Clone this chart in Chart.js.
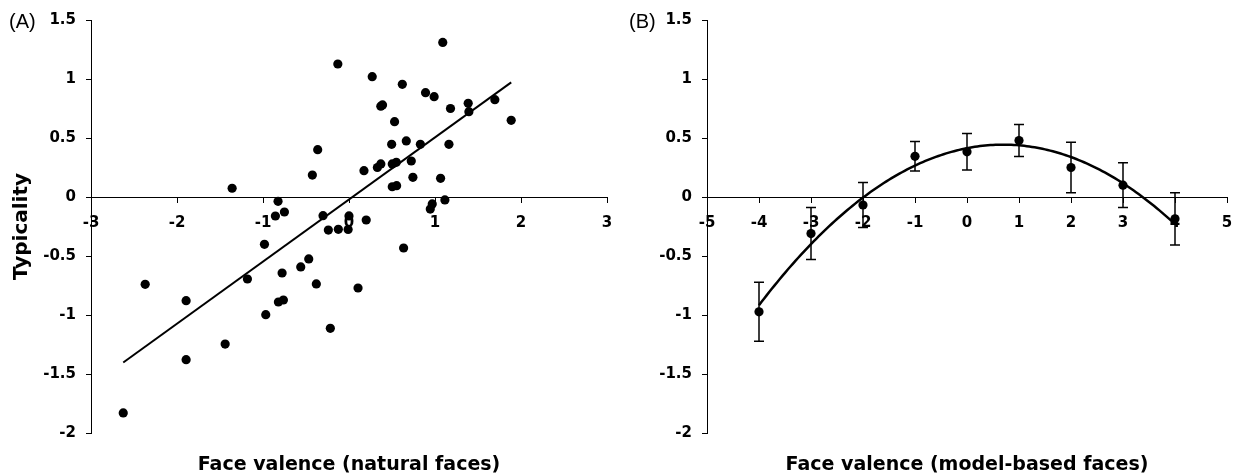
<!DOCTYPE html>
<html><head><meta charset="utf-8">
<script src="https://cdn.jsdelivr.net/npm/chart.js@4.4.1/dist/chart.umd.min.js"></script>
<style>
html,body{margin:0;padding:0;background:#fff;}
#wrap{position:relative;width:1235px;height:475px;overflow:hidden;background:#fff;}
#cA{position:absolute;left:0;top:0;}
#cB{position:absolute;left:620px;top:0;}
</style></head><body>
<div id="wrap"><canvas id="cA" width="620" height="475"></canvas><canvas id="cB" width="615" height="475"></canvas></div>
<script>
// ---------- Panel A: natural faces ----------
const naturalX = [-0.13, 1.09, 0.27, 0.62, 0.89, 0.99, 0.37, 0.39, 1.18, 1.386, 1.394, 1.696, 1.886, 0.53, -0.364, -0.426, 0.496, 0.666, 0.83, 1.162, 0.174, 0.33, 0.37, 0.503, 0.55, 0.724, 0.743, 1.065, 0.503, 0.554, 1.115, 0.968, 0.945, -0.302, 0, -0.01, -0.24, -0.124, 0.2, -1.359, -0.825, -0.856, -0.751, -2.625, -2.37, -1.894, -1.894, -1.44, -1.181, -0.983, -0.968, -0.778, -0.821, -0.763, -0.561, -0.468, -0.38, 0.105, -0.217, 0.635];
const naturalY = [1.127, 1.31, 1.02, 0.955, 0.884, 0.85, 0.77, 0.78, 0.75, 0.794, 0.723, 0.825, 0.65, 0.638, 0.401, 0.186, 0.446, 0.475, 0.446, 0.446, 0.223, 0.25, 0.28, 0.28, 0.294, 0.305, 0.167, 0.158, 0.087, 0.096, -0.025, -0.059, -0.102, -0.158, -0.16, -0.275, -0.28, -0.274, -0.195, 0.074, -0.037, -0.161, -0.127, -1.83, -0.74, -0.879, -1.379, -1.246, -0.695, -0.401, -0.997, -0.644, -0.89, -0.873, -0.593, -0.525, -0.737, -0.771, -1.113, -0.432];
const xTicksA = [-3, -2, -1, 0, 1, 2, 3];

// ---------- Panel B: model-based faces ----------
const modelX = [-4, -3, -2, -1, 0, 1, 2, 3, 4];
const modelY = [-0.973, -0.31, -0.068, 0.345, 0.383, 0.479, 0.25, 0.1, -0.185];
const modelErr = [0.25, 0.22, 0.19, 0.125, 0.155, 0.135, 0.213, 0.19, 0.222];
const xTicksB = [-5, -4, -3, -2, -1, 0, 1, 2, 3, 4, 5];

const yTicks = [-2, -1.5, -1, -0.5, 0, 0.5, 1, 1.5];

const titleA = 'Face valence (natural faces)';
const titleB = 'Face valence (model-based faces)';
const yTitle = 'Typicality';

// ---------- fits (trendlines computed from the data) ----------
function linFit(xs, ys) {
  const n = xs.length;
  let sx = 0, sy = 0, sxx = 0, sxy = 0;
  for (let i = 0; i < n; i++) { sx += xs[i]; sy += ys[i]; sxx += xs[i]*xs[i]; sxy += xs[i]*ys[i]; }
  const b = (n*sxy - sx*sy) / (n*sxx - sx*sx);
  const a = (sy - b*sx) / n;
  return {a, b};
}
function quadFit(xs, ys) {
  const S = [0,0,0,0,0], T = [0,0,0];
  for (let i = 0; i < xs.length; i++) {
    let p = 1;
    for (let k = 0; k < 5; k++) { S[k] += p; if (k < 3) T[k] += p*ys[i]; p *= xs[i]; }
  }
  const M = [[S[0],S[1],S[2],T[0]],[S[1],S[2],S[3],T[1]],[S[2],S[3],S[4],T[2]]];
  for (let c = 0; c < 3; c++) {
    for (let r = c+1; r < 3; r++) {
      const f = M[r][c]/M[c][c];
      for (let k = c; k < 4; k++) M[r][k] -= f*M[c][k];
    }
  }
  const sol = [0,0,0];
  for (let r = 2; r >= 0; r--) {
    let s = M[r][3];
    for (let k = r+1; k < 3; k++) s -= M[r][k]*sol[k];
    sol[r] = s/M[r][r];
  }
  return sol;
}

const lf = linFit(naturalX, naturalY);
const xMinA = Math.min(...naturalX), xMaxA = Math.max(...naturalX);
const trendA = [{x: xMinA, y: lf.a + lf.b*xMinA}, {x: xMaxA, y: lf.a + lf.b*xMaxA}];

const qf = quadFit(modelX, modelY);
const trendB = [];
const xMinB = Math.min(...modelX), xMaxB = Math.max(...modelX);
for (let i = 0; i <= 160; i++) {
  const x = xMinB + (xMaxB - xMinB) * i / 160;
  trendB.push({x, y: qf[0] + qf[1]*x + qf[2]*x*x});
}

// ---------- shared styling ----------
const FONT = "'DejaVu Sans', Verdana, sans-serif";
const tickFont = {family: FONT, size: 15, weight: 'bold'};
const axisGrid = {display: true, drawOnChartArea: false, drawTicks: true, tickLength: 5, color: '#000', lineWidth: 1};
const axisBorder = {display: true, color: '#000', width: 1};

function fmt(v) { return String(v); }

const decorPlugin = {
  id: 'decor',
  afterDraw(chart, args, opts) {
    const ctx = chart.ctx, ca = chart.chartArea;
    ctx.save();
    ctx.fillStyle = '#000';
    ctx.font = "bold 19px " + FONT;
    ctx.textAlign = 'center';
    ctx.textBaseline = 'alphabetic';
    ctx.fillText(opts.xTitle, (ca.left + ca.right) / 2, 470);
    ctx.font = "20px 'Liberation Sans', Arial, sans-serif";
    ctx.textAlign = 'left';
    ctx.textBaseline = 'middle';
    ctx.fillText(opts.panel, opts.panelX, 22);
    ctx.restore();
  }
};

const errorBarPlugin = {
  id: 'errbars',
  beforeDatasetsDraw(chart, args, opts) {
    if (!opts.err) return;
    const ctx = chart.ctx, xs = chart.scales.x, ys = chart.scales.y;
    ctx.save();
    ctx.strokeStyle = '#000';
    ctx.lineWidth = 1.5;
    for (let i = 0; i < opts.xs.length; i++) {
      const px = xs.getPixelForValue(opts.xs[i]);
      const pTop = ys.getPixelForValue(opts.ys[i] + opts.err[i]);
      const pBot = ys.getPixelForValue(opts.ys[i] - opts.err[i]);
      ctx.beginPath();
      ctx.moveTo(px, pTop); ctx.lineTo(px, pBot);
      ctx.moveTo(px - 5, pTop); ctx.lineTo(px + 5, pTop);
      ctx.moveTo(px - 5, pBot); ctx.lineTo(px + 5, pBot);
      ctx.stroke();
    }
    ctx.restore();
  }
};

function makeScales(xTicks, yWidth, showYTitle) {
  return {
    x: {
      type: 'linear', position: {y: 0},
      min: xTicks[0], max: xTicks[xTicks.length - 1],
      grid: axisGrid, border: axisBorder,
      ticks: {font: tickFont, color: '#000', padding: 12, autoSkip: false, maxRotation: 0, callback: fmt},
      afterBuildTicks: s => { s.ticks = xTicks.map(v => ({value: v})); },
      afterFit: s => { s.paddingLeft = 0; s.paddingRight = 0; }
    },
    y: {
      type: 'linear', position: 'left',
      min: yTicks[0], max: yTicks[yTicks.length - 1],
      grid: axisGrid, border: axisBorder,
      ticks: {font: tickFont, color: '#000', padding: 10, autoSkip: false, callback: fmt},
      afterBuildTicks: s => { s.ticks = yTicks.map(v => ({value: v})); },
      title: {display: showYTitle, text: yTitle, color: '#000',
              font: {family: FONT, size: 20, weight: 'bold'}, padding: {top: 10, bottom: 0}},
      afterFit: s => { s.width = yWidth; }
    }
  };
}

new Chart(document.getElementById('cA'), {
  type: 'scatter',
  data: {
    datasets: [
      {data: naturalX.map((x, i) => ({x, y: naturalY[i]})), pointRadius: 4.6, pointHoverRadius: 4.6,
       backgroundColor: '#000', borderWidth: 0, showLine: false},
      {data: trendA, showLine: true, pointRadius: 0, borderColor: '#000', borderWidth: 2, fill: false}
    ]
  },
  options: {
    responsive: false, animation: false, events: [],
    layout: {padding: {left: 0, right: 13, top: 20, bottom: 42}},
    scales: makeScales(xTicksA, 91, true),
    plugins: {legend: {display: false}, tooltip: {enabled: false},
              decor: {xTitle: titleA, panel: '(A)', panelX: 9}}
  },
  plugins: [decorPlugin]
});

new Chart(document.getElementById('cB'), {
  type: 'scatter',
  data: {
    datasets: [
      {data: modelX.map((x, i) => ({x, y: modelY[i]})), pointRadius: 4.6, pointHoverRadius: 4.6,
       backgroundColor: '#000', borderWidth: 0, showLine: false},
      {data: trendB, showLine: true, pointRadius: 0, borderColor: '#000', borderWidth: 2.5, fill: false, tension: 0}
    ]
  },
  options: {
    responsive: false, animation: false, events: [],
    layout: {padding: {left: 0, right: 8, top: 20, bottom: 42}},
    scales: makeScales(xTicksB, 87, false),
    plugins: {legend: {display: false}, tooltip: {enabled: false},
              decor: {xTitle: titleB, panel: '(B)', panelX: 9},
              errbars: {xs: modelX, ys: modelY, err: modelErr}}
  },
  plugins: [decorPlugin, errorBarPlugin]
});
</script>
</body></html>
